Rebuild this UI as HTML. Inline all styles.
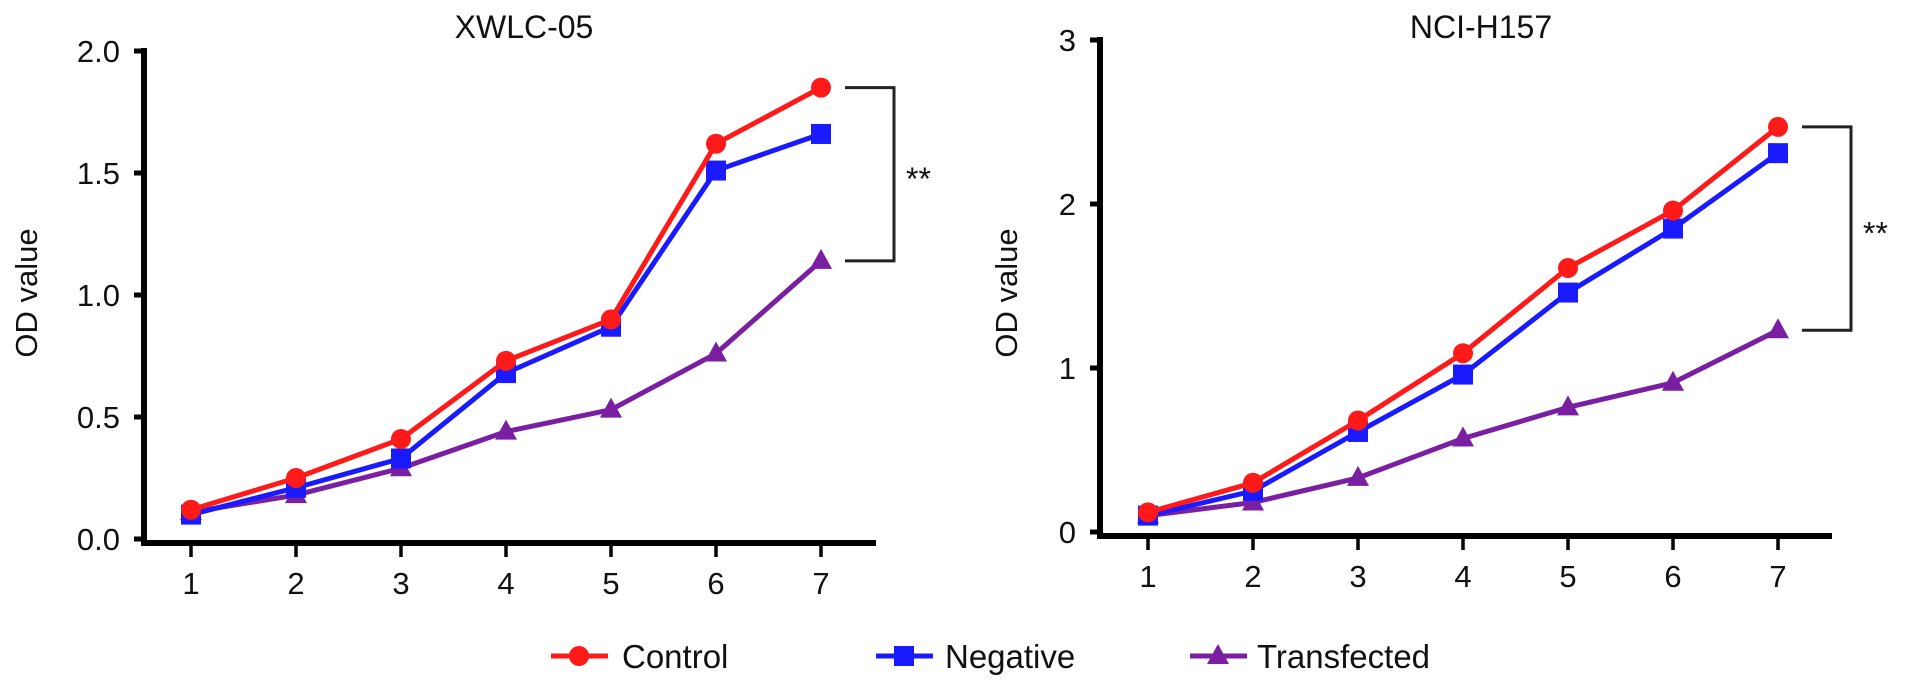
<!DOCTYPE html>
<html><head><meta charset="utf-8"><style>
html,body{margin:0;padding:0;background:#fff;}
svg{display:block;font-family:"Liberation Sans",Arial,sans-serif;}
</style></head><body>
<svg id="chart" width="1913" height="687" viewBox="0 0 1913 687">
<g id="root"></g>
</svg>
<script>
const days = [1,2,3,4,5,6,7];
const xwlcControl = [0.12,0.25,0.41,0.73,0.90,1.62,1.85];
const xwlcNegative = [0.10,0.21,0.33,0.68,0.87,1.51,1.66];
const xwlcTransfected = [0.11,0.18,0.29,0.44,0.53,0.76,1.14];
const nciControl = [0.12,0.30,0.68,1.09,1.61,1.96,2.47];
const nciNegative = [0.10,0.25,0.61,0.96,1.46,1.85,2.31];
const nciTransfected = [0.10,0.18,0.33,0.57,0.76,0.91,1.23];
const xwlcTicks = ["0.0","0.5","1.0","1.5","2.0"];
const xwlcTickVals = [0,0.5,1,1.5,2];
const nciTicks = ["0","1","2","3"];
const nciTickVals = [0,1,2,3];

const NS="http://www.w3.org/2000/svg";
const root=document.getElementById('root');
function mk(tag,attrs,parent){const e=document.createElementNS(NS,tag);for(const k in attrs)e.setAttribute(k,attrs[k]);(parent||root).appendChild(e);return e;}
const colors={control:'#ff1a1a',negative:'#1a1aff',transfected:'#7a1fa2'};

function marker(g,type,x,y,c){
  let m;
  if(type==='control') m=mk('circle',{cx:x,cy:y,r:10,fill:c},g);
  else if(type==='negative') m=mk('rect',{x:x-10,y:y-10,width:20,height:20,fill:c},g);
  else m=mk('polygon',{points:`${x},${y-12} ${x+11},${y+8} ${x-11},${y+8}`,fill:c},g);
  return m;
}

function panel(p){
  const g=mk('g',{});
  
  
  const xs=d=>p.x1+(d-1)*(p.x7-p.x1)/6;
  const ys=v=>p.y0-(v)*(p.y0-p.yTop)/p.yMax;
  const t=mk('text',{x:(p.x1+p.x7)/2+18,y:38,'font-size':32,'text-anchor':'middle',fill:'#111'},g);
  t.textContent=p.title;
  
  
  const ya=mk('line',{x1:p.ax,y1:p.yTop-3,x2:p.ax,y2:p.y0+6,stroke:'#000','stroke-width':6},g);
  
  
  p.tickVals.forEach((v,i)=>{
    const y=ys(v);
    mk('line',{x1:p.ax-10,y1:y,x2:p.ax,y2:y,stroke:'#000','stroke-width':5},g);
    const tl=mk('text',{x:p.ax-24,y:y+11,'font-size':31,'text-anchor':'end',fill:'#111'},g);
    tl.textContent=p.ticks[i];
    
    
  });
  const xa=mk('line',{x1:p.ax-3,y1:p.y0+4,x2:p.xEnd,y2:p.y0+4,stroke:'#000','stroke-width':6},g);
  
  
  days.forEach(d=>{
    const x=xs(d);
    mk('line',{x1:x,y1:p.y0+4,x2:x,y2:p.y0+18,stroke:'#000','stroke-width':3.5},g);
    const tl=mk('text',{x:x,y:p.y0+55,'font-size':31,'text-anchor':'middle',fill:'#111'},g);
    tl.textContent=d;
    
    
  });
  const yt=mk('text',{x:0,y:0,'font-size':31,'text-anchor':'middle',fill:'#111',transform:`translate(${p.titleX},${p.titleY}) rotate(-90)`},g);
  yt.textContent='OD value';
  
  
  [['transfected',p.tr],['negative',p.ne],['control',p.co]].forEach(([k,vals])=>{
    const sg=mk('g',{},g);
    
    
    const pts=vals.map((v,i)=>xs(days[i])+','+ys(v)).join(' ');
    mk('polyline',{points:pts,fill:'none',stroke:colors[k],'stroke-width':5,'stroke-linejoin':'round'},sg);
    vals.forEach((v,i)=>{
      const m=marker(sg,k,xs(days[i]),ys(v),colors[k]);
      
      
    });
  });
  const bTop=ys(p.co[6]), bBot=ys(p.tr[6]);
  const bx1=p.x7+24, bx2=p.x7+73;
  const br=mk('path',{d:`M${bx1},${bTop} H${bx2} V${bBot} H${bx1}`,fill:'none',stroke:'#222','stroke-width':3},g);
  
  
  const st=mk('text',{x:bx2+12,y:(bTop+bBot)/2+16,'font-size':32,fill:'#111'},g);
  st.textContent='**';
  
  
}

panel({name:'xwlc-05-chart',title:'XWLC-05',ax:144,x1:191,x7:821,xEnd:876,y0:539,yTop:51,yMax:2,
  ticks:xwlcTicks,tickVals:xwlcTickVals,co:xwlcControl,ne:xwlcNegative,tr:xwlcTransfected,titleX:37,titleY:293});
panel({name:'nci-h157-chart',title:'NCI-H157',ax:1100,x1:1148,x7:1778,xEnd:1832,y0:532,yTop:40,yMax:3,
  ticks:nciTicks,tickVals:nciTickVals,co:nciControl,ne:nciNegative,tr:nciTransfected,titleX:1017,titleY:293});

const lg=mk('g',{});


[['control','Control',551,622],['negative','Negative',876,945],['transfected','Transfected',1190,1257]].forEach(([k,label,lx,tx])=>{
  const e=mk('g',{},lg);
  
  
  mk('line',{x1:lx,y1:656,x2:lx+57,y2:656,stroke:colors[k],'stroke-width':5},e);
  marker(e,k,lx+28,656,colors[k]);
  const t=mk('text',{x:tx,y:668,'font-size':33,fill:'#111'},e);
  t.textContent=label;
});
</script>
</body></html>
